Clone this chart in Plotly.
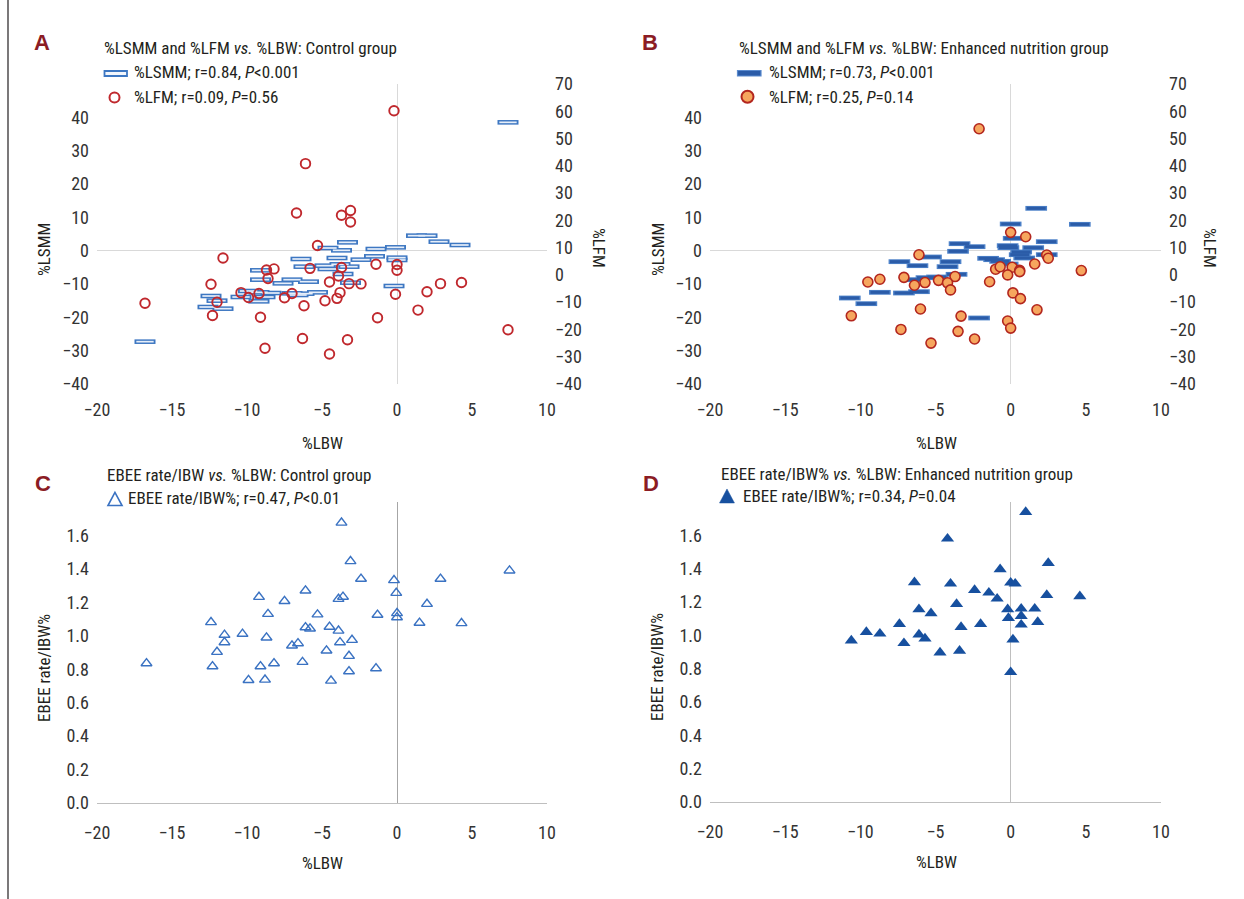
import plotly.graph_objects as go

W, H = 1244, 899

# ---------------- data ----------------
# Panel A (Control): %LSMM vs %LBW
a_lsmm_x = [7.4, -16.8, 1.3, 2.0, 2.8, 4.2, -0.1, -1.4, -3.3, -4.6, -3.7, -1.5, -2.4, 0.0, 0.0,
            -4.0, -6.4, -6.2, -4.8, -4.6, -3.8, -3.2, -3.6, -9.1, -9.1, -7.0, -7.6, -5.9, -3.1,
            -0.2, -9.9, -9.2, -8.4, -7.0, -6.2, -5.3, -10.4, -8.8, -9.2, -12.4, -12.0, -12.6,
            -11.6, -6.6]
a_lsmm_y = [38.5, -27.3, 4.5, 4.5, 2.7, 1.7, 1.0, 0.5, 2.5, 0.8, 0.1, -1.7, -2.7, -2.1, -2.8,
            -2.2, -2.5, -4.8, -4.5, -5.5, -4.1, -4.8, -7.0, -5.9, -8.7, -8.7, -9.8, -9.3, -9.6,
            -10.6, -12.1, -12.5, -12.7, -12.8, -12.9, -12.5, -13.9, -13.9, -15.2, -13.6, -15.0,
            -16.9, -17.4, -13.3]
# Panel A (Control): %LFM vs %LBW (right axis)
a_lfm_x = [-0.2, -6.1, -6.7, -3.7, -3.1, -3.1, -5.3, -11.6, -1.4, 0.0, 0.0, -3.7, -5.8, -8.7,
           -8.2, -8.6, -3.9, -12.4, -4.5, -3.2, -2.4, 2.9, 4.3, -10.4, -9.9, -9.2, -7.0, -7.5,
           -3.8, 2.0, -0.1, -12.0, -4.8, -4.0, -6.2, -12.3, -9.1, 1.4, -1.3, -16.8, -6.3, -3.3,
           -8.8, -4.5, 7.4]
a_lfm_y = [60.2, 40.8, 22.7, 21.9, 23.6, 19.4, 10.8, 6.2, 3.9, 3.8, 1.7, 2.7, 2.4, 1.8, 2.2,
           -1.3, -0.4, -3.4, -2.6, -3.2, -3.3, -3.2, -2.8, -6.5, -8.3, -6.8, -6.8, -8.4, -6.5,
           -6.2, -7.1, -10.0, -9.5, -8.6, -11.3, -14.9, -15.5, -12.9, -15.7, -10.4, -23.3,
           -23.8, -26.9, -29.0, -20.1]

# Panel B (Enhanced nutrition): %LSMM vs %LBW
b_lsmm_x = [1.7, 4.6, 0.0, 0.2, -0.2, -0.15, 2.4, 1.5, -3.4, -2.4, -3.5, 0.7, 0.6, 2.4, 0.9,
            -1.5, -1.1, -0.7, -0.2, -5.3, -7.4, -4.0, -6.2, -4.2, -3.6, -5.6, -4.9, -6.4, -8.7,
            -7.1, -6.1, -10.7, -9.6, -2.1]
b_lsmm_y = [12.7, 7.9, 8.0, 3.7, 1.5, 0.9, 2.7, 0.9, 2.1, 1.2, -0.2, -0.4, -1.2, -1.2, -2.2,
            -2.3, -2.7, -3.2, -4.0, -1.9, -3.3, -3.3, -4.5, -4.8, -7.1, -8.1, -7.9, -8.7, -12.5,
            -12.7, -12.3, -14.2, -15.9, -20.2]
# Panel B (Enhanced nutrition): %LFM vs %LBW (right axis)
b_lfm_x = [-2.1, 0.0, 1.0, -6.1, 2.4, 2.5, 1.6, -1.0, -0.7, 0.1, 0.6, 0.6, 4.7, -0.2, -7.1,
           -3.7, -8.7, -9.5, -5.7, -4.8, -4.2, -6.4, -4.0, -1.4, 0.15, 0.65, -6.0, 1.75, -10.6,
           -3.3, -0.2, 0.0, -7.3, -3.5, -2.4, -5.3]
b_lfm_y = [53.6, 15.6, 14.0, 7.4, 7.3, 6.1, 4.0, 2.1, 3.0, 2.8, 1.7, 1.2, 1.6, 0.0, -0.9,
           -0.6, -1.6, -2.6, -2.8, -2.0, -2.9, -3.8, -5.5, -2.5, -6.6, -8.7, -12.5, -12.8,
           -15.0, -15.1, -16.9, -19.5, -20.0, -20.7, -23.5, -25.0]

# Panel C (Control): EBEE rate/IBW% vs %LBW
c_x = [-3.7, -3.1, -2.4, -0.2, 2.9, 7.5, -6.1, -0.05, -9.2, -7.5, -3.9, -3.6, 2.0, -8.6,
       -5.3, -1.3, 0.0, 0.0, -12.4, 1.5, 4.3, -6.1, -5.8, -4.5, -3.9, -11.5, -10.3, -8.7,
       -11.5, -7.0, -6.6, -3.8, -3.0, -12.0, -4.7, -3.2, -16.7, -12.3, -9.1, -8.2, -6.3,
       -3.2, -1.4, -9.9, -8.8, -4.4]
c_y = [1.676, 1.446, 1.34, 1.332, 1.34, 1.39, 1.27, 1.256, 1.232, 1.207, 1.22, 1.233, 1.19,
       1.13, 1.127, 1.125, 1.135, 1.11, 1.081, 1.077, 1.075, 1.05, 1.043, 1.053, 1.03, 1.005,
       1.011, 0.989, 0.961, 0.941, 0.955, 0.961, 0.975, 0.903, 0.911, 0.879, 0.835, 0.817,
       0.817, 0.835, 0.843, 0.787, 0.805, 0.735, 0.737, 0.731]

# Panel D (Enhanced nutrition): EBEE rate/IBW% vs %LBW
d_x = [1.0, -4.2, 2.5, -0.7, 0.0, 0.3, -6.4, -4.0, -2.4, -1.45, -0.9, 2.4, 4.6, -3.6, -6.1,
       -5.3, -0.2, 0.7, 1.6, -0.15, 0.7, 0.7, 1.8, -7.4, -3.3, -2.0, -10.6, -9.6, -8.7, -6.1,
       -5.7, -7.1, 0.15, -4.7, -3.4, 0.0]
d_y = [1.74, 1.58, 1.434, 1.396, 1.316, 1.31, 1.318, 1.31, 1.272, 1.256, 1.22, 1.242, 1.234,
       1.188, 1.156, 1.132, 1.156, 1.16, 1.16, 1.104, 1.116, 1.064, 1.08, 1.068, 1.05, 1.068,
       0.969, 1.02, 1.01, 1.005, 0.981, 0.953, 0.975, 0.897, 0.907, 0.779]

x_range = [-20, 10]
lsmm_ticks = [-40, -30, -20, -10, 0, 10, 20, 30, 40]
lfm_ticks = [-40, -30, -20, -10, 0, 10, 20, 30, 40, 50, 60, 70]
ebee_ticks = [0.0, 0.2, 0.4, 0.6, 0.8, 1.0, 1.2, 1.4, 1.6]

# ---------------- styling ----------------
FONT = "Liberation Sans Narrow, Arial Narrow, Roboto Condensed, DejaVu Sans Condensed, sans-serif"
TXT = "#231f20"
TICKC = "#333333"
RED_LBL = "#8b1c24"


def X(p):
    return p / W


def Y(p):
    return 1 - p / H


fig = go.Figure()
nohover = dict(hoverinfo="skip", showlegend=False, mode="markers")

# Panel A
fig.add_trace(go.Scatter(x=a_lsmm_x, y=a_lsmm_y, xaxis="x", yaxis="y",
                         marker=dict(symbol="line-ew", size=15, color="#3d77c2",
                                     line=dict(width=4.6, color="#3d77c2")), **nohover))
fig.add_trace(go.Scatter(x=a_lsmm_x, y=a_lsmm_y, xaxis="x", yaxis="y",
                         marker=dict(symbol="line-ew", size=12.4, color="#e6eef9",
                                     line=dict(width=1.7, color="#e6eef9")), **nohover))
fig.add_trace(go.Scatter(x=a_lfm_x, y=a_lfm_y, xaxis="x", yaxis="y2",
                         marker=dict(symbol="circle-open", size=9.5, color="#c0282d",
                                     line=dict(width=1.9, color="#c0282d")), **nohover))

# Panel B
fig.add_trace(go.Scatter(x=b_lsmm_x, y=b_lsmm_y, xaxis="x2", yaxis="y3",
                         marker=dict(symbol="line-ew", size=15.5, color="#4d82c9",
                                     line=dict(width=4.8, color="#4d82c9")), **nohover))
fig.add_trace(go.Scatter(x=b_lsmm_x, y=b_lsmm_y, xaxis="x2", yaxis="y3",
                         marker=dict(symbol="line-ew", size=13.5, color="#2b5ca8",
                                     line=dict(width=3.0, color="#2b5ca8")), **nohover))
fig.add_trace(go.Scatter(x=b_lfm_x, y=b_lfm_y, xaxis="x2", yaxis="y4",
                         marker=dict(symbol="circle", size=10, color="#f6a65e", line=dict(width=1.6, color="#b3261e")),
                         **nohover))

# Panel C
fig.add_trace(go.Scatter(x=c_x, y=c_y, xaxis="x3", yaxis="y5",
                         marker=dict(symbol="triangle-up-open", size=9.5, color="#3a72c2",
                                     line=dict(width=1.4, color="#3a72c2")), **nohover))
# Panel D
fig.add_trace(go.Scatter(x=d_x, y=d_y, xaxis="x4", yaxis="y6",
                         marker=dict(symbol="triangle-up", size=11.5, color="#17509f", line=dict(width=0)),
                         **nohover))

tickfont = dict(family=FONT, size=18, color=TICKC)


def xaxis(left, right, anchor, zcol, showline=False):
    return dict(domain=[X(left), X(right)], range=x_range, dtick=5, tick0=0, anchor=anchor,
                showgrid=False, zeroline=True, zerolinecolor=zcol, zerolinewidth=1,
                showline=showline, linecolor="#bfbfbf", linewidth=1, ticks="",
                ticklabelstandoff=13, tickfont=tickfont, fixedrange=True, automargin=False)


def yaxis(top, bottom, anchor, rng, tickvals, zero, side="left", overlay=None, fmt=None):
    d = dict(domain=[Y(bottom), Y(top)], range=rng, tickvals=tickvals, anchor=anchor,
             showgrid=False, zeroline=zero, zerolinecolor="#d9d9d9", zerolinewidth=1,
             showline=False, ticks="", side=side, ticklabelstandoff=7, tickfont=tickfont,
             fixedrange=True, automargin=False)
    if overlay:
        d["overlaying"] = overlay
    if fmt:
        d["tickformat"] = fmt
    return d


layout = dict(
    width=W, height=H, margin=dict(l=0, r=0, t=0, b=0, pad=0, autoexpand=False),
    paper_bgcolor="white", plot_bgcolor="rgba(0,0,0,0)",
    showlegend=False, font=dict(family=FONT, color=TXT),
    xaxis=xaxis(97, 547, "y", "#d9d9d9"),
    yaxis=yaxis(84, 384, "x", [-40, 50], lsmm_ticks, True),
    yaxis2=yaxis(84, 384, "x", [-40, 70], lfm_ticks, False, side="right", overlay="y"),
    xaxis2=xaxis(710, 1161, "y3", "#d9d9d9"),
    yaxis3=yaxis(84, 384, "x2", [-40, 50], lsmm_ticks, True),
    yaxis4=yaxis(84, 384, "x2", [-40, 70], lfm_ticks, False, side="right", overlay="y3"),
    xaxis3=xaxis(97, 547, "y5", "#a6a6a6", showline=True),
    yaxis5=yaxis(502, 803, "x3", [0, 1.8], ebee_ticks, False, fmt=".1f"),
    xaxis4=xaxis(710, 1161, "y6", "#bfbfbf", showline=True),
    yaxis6=yaxis(502, 802, "x4", [0, 1.8], ebee_ticks, False, fmt=".1f"),
)
fig.update_layout(**layout)

ann = []


def text(x, y, s, size=17, color=TXT, bold=False, xanchor="left", angle=0):
    if bold:
        s = "<b>" + s + "</b>"
    ann.append(dict(x=X(x), y=Y(y), xref="paper", yref="paper", text=s, showarrow=False,
                    xanchor=xanchor, yanchor="middle", textangle=angle,
                    font=dict(family=FONT, size=size, color=color)))


LET = "Liberation Sans, Arial, sans-serif"
for lx, ly, s in [(42, 43, "A"), (650, 43, "B"), (43, 483, "C"), (651, 484, "D")]:
    ann.append(dict(x=X(lx), y=Y(ly), xref="paper", yref="paper", text="<b>" + s + "</b>",
                    showarrow=False, xanchor="center", yanchor="middle",
                    font=dict(family=LET, size=22, color=RED_LBL)))

# titles and legend texts
text(102, 48, "%LSMM and %LFM <i>vs.</i> %LBW: Control group")
text(132, 72, "%LSMM; r=0.84, <i>P</i>&lt;0.001")
text(132, 97, "%LFM; r=0.09, <i>P</i>=0.56")
text(737, 48, "%LSMM and %LFM <i>vs.</i> %LBW: Enhanced nutrition group")
text(767, 72, "%LSMM; r=0.73, <i>P</i>&lt;0.001")
text(767, 97, "%LFM; r=0.25, <i>P</i>=0.14")
text(105, 475, "EBEE rate/IBW <i>vs.</i> %LBW: Control group")
text(126, 498, "EBEE rate/IBW%; r=0.47, <i>P</i>&lt;0.01")
text(719, 474, "EBEE rate/IBW% <i>vs.</i> %LBW: Enhanced nutrition group")
text(741, 496, "EBEE rate/IBW%; r=0.34, <i>P</i>=0.04")

# axis titles
text(322, 443, "%LBW", xanchor="center")
text(936, 443, "%LBW", xanchor="center")
text(322, 863, "%LBW", xanchor="center")
text(936, 862, "%LBW", xanchor="center")
text(44, 250, "%LSMM", xanchor="center", angle=-90)
text(658, 250, "%LSMM", xanchor="center", angle=-90)
text(599, 248, "%LFM", xanchor="center", angle=90)
text(1210, 248, "%LFM", xanchor="center", angle=90)
text(44, 668, "EBEE rate/IBW%", xanchor="center", angle=-90)
text(657, 667, "EBEE rate/IBW%", xanchor="center", angle=-90)

fig.update_layout(annotations=ann)

shapes = []
# left border line
shapes.append(dict(type="line", xref="paper", yref="paper", x0=X(8), x1=X(8), y0=0, y1=1,
                   line=dict(color="#231f20", width=1.2)))
# legend markers
shapes.append(dict(type="rect", xref="paper", yref="paper", x0=X(104.5), x1=X(127), y0=Y(76), y1=Y(71),
                   line=dict(color="#3d77c2", width=1.8), fillcolor="#f2f6fc"))
shapes.append(dict(type="circle", xref="paper", yref="paper", x0=X(109.5), x1=X(119.5), y0=Y(102.5), y1=Y(92.5),
                   line=dict(color="#c0282d", width=2), fillcolor="rgba(0,0,0,0)"))
shapes.append(dict(type="rect", xref="paper", yref="paper", x0=X(737.5), x1=X(761), y0=Y(76), y1=Y(70.5),
                   line=dict(color="#5a8ace", width=1.2), fillcolor="#2b5ca8"))
shapes.append(dict(type="circle", xref="paper", yref="paper", x0=X(741.5), x1=X(753.5), y0=Y(102.7), y1=Y(90.7),
                   line=dict(color="#b3261e", width=2), fillcolor="#f6a65e"))


def tri(cx, cy, w, h):
    return "M {:.4f} {:.4f} L {:.4f} {:.4f} L {:.4f} {:.4f} Z".format(
        X(cx - w / 2), Y(cy + h / 2), X(cx + w / 2), Y(cy + h / 2), X(cx), Y(cy - h / 2))


shapes.append(dict(type="path", xref="paper", yref="paper", path=tri(115, 499, 14, 13),
                   line=dict(color="#3a72c2", width=1.6), fillcolor="rgba(0,0,0,0)"))
shapes.append(dict(type="path", xref="paper", yref="paper", path=tri(727, 496, 15, 14),
                   line=dict(color="#17509f", width=0.5), fillcolor="#17509f"))
fig.update_layout(shapes=shapes)

fig.write_html("out.html", config={"displayModeBar": False, "staticPlot": True},
               post_script="document.body.style.margin='0';document.body.style.overflow='hidden';")
